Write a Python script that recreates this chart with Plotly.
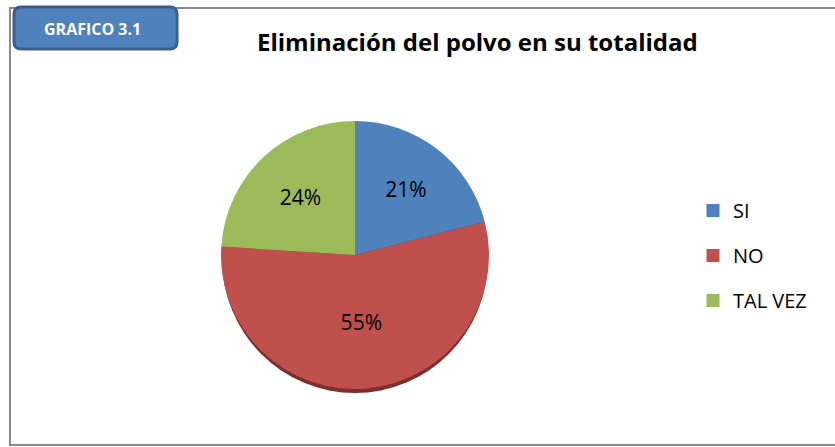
import plotly.graph_objects as go

W, H = 835, 447

labels = ["SI", "NO", "TAL VEZ"]
values = [21, 55, 24]
colors = ["#4F81BD", "#C0504D", "#9BBB59"]
title = "Eliminación del polvo en su totalidad"
badge = "GRAFICO 3.1"

FONT = "Open Sans, Liberation Sans"


def px(x):
    return x / W


def py(y):
    return 1 - y / H


def rounded_rect(x0, y0, x1, y1, r):
    # pixel coords (top-left origin) -> paper path with rounded corners
    p = [
        f"M {px(x0 + r)},{py(y0)}",
        f"L {px(x1 - r)},{py(y0)}",
        f"Q {px(x1)},{py(y0)} {px(x1)},{py(y0 + r)}",
        f"L {px(x1)},{py(y1 - r)}",
        f"Q {px(x1)},{py(y1)} {px(x1 - r)},{py(y1)}",
        f"L {px(x0 + r)},{py(y1)}",
        f"Q {px(x0)},{py(y1)} {px(x0)},{py(y1 - r)}",
        f"L {px(x0)},{py(y0 + r)}",
        f"Q {px(x0)},{py(y0)} {px(x0 + r)},{py(y0)}",
        "Z",
    ]
    return " ".join(p)


fig = go.Figure()

cx, cy, r = 355, 255, 134
fig.add_trace(go.Pie(
    labels=labels,
    values=values,
    sort=False,
    direction="clockwise",
    rotation=0,
    marker=dict(colors=colors, line=dict(width=0)),
    texttemplate="%{value}%",
    textposition="inside",
    insidetextorientation="horizontal",
    textfont=dict(family=FONT, size=21, color="black"),
    domain=dict(x=[px(cx - r), px(cx + r)], y=[py(cy + r), py(cy - r)]),
    showlegend=False,
    hoverinfo="label+percent",
))

# legend entries (spaced like the original)
for lab, col in zip(labels, colors):
    fig.add_trace(go.Scatter(
        x=[None], y=[None], mode="markers", name=lab, legendgroup=lab,
        marker=dict(symbol="square", size=13, color=col),
    ))

fig.update_layout(
    width=W, height=H,
    margin=dict(t=0, l=0, r=0, b=0),
    paper_bgcolor="white",
    plot_bgcolor="white",
    xaxis=dict(visible=False),
    yaxis=dict(visible=False),
    showlegend=True,
    legend=dict(
        x=px(693), y=py(191), xanchor="left", yanchor="top",
        font=dict(family=FONT, size=20, color="black"),
        tracegroupgap=16, itemwidth=30,
        bgcolor="rgba(0,0,0,0)",
    ),
    shapes=[
        # chart border
        dict(type="path", xref="paper", yref="paper", layer="below",
             path=f"M {px(10)},{py(8)} L {px(W + 5)},{py(8)} L {px(W + 5)},{py(445)} L {px(10)},{py(445)} Z",
             line=dict(color="#8a8a8a", width=2), fillcolor="rgba(0,0,0,0)"),
        # pie drop shadow
        dict(type="circle", xref="paper", yref="paper", layer="below",
             x0=px(cx - r + 1), x1=px(cx + r - 1), y0=py(cy + r + 4), y1=py(cy - r + 4),
             line=dict(width=0), fillcolor="#7d2f2d"),
        # badge
        dict(type="path", xref="paper", yref="paper",
             path=rounded_rect(14, 7, 177, 49, 7),
             line=dict(color="#3B5E8C", width=3), fillcolor="#4F81BD"),
    ],
    annotations=[
        dict(text=f"<b>{badge}</b>", xref="paper", yref="paper",
             x=px(92), y=py(29), xanchor="center", yanchor="middle", showarrow=False,
             font=dict(family=FONT, size=16, color="white")),
        dict(text=f"<b>{title}</b>", xref="paper", yref="paper",
             x=px(477), y=py(42), xanchor="center", yanchor="middle", showarrow=False,
             font=dict(family=FONT, size=24, color="black")),
    ],
)

fig.write_html("out.html", config={"displayModeBar": False},
               post_script="document.body.style.margin='0';")
